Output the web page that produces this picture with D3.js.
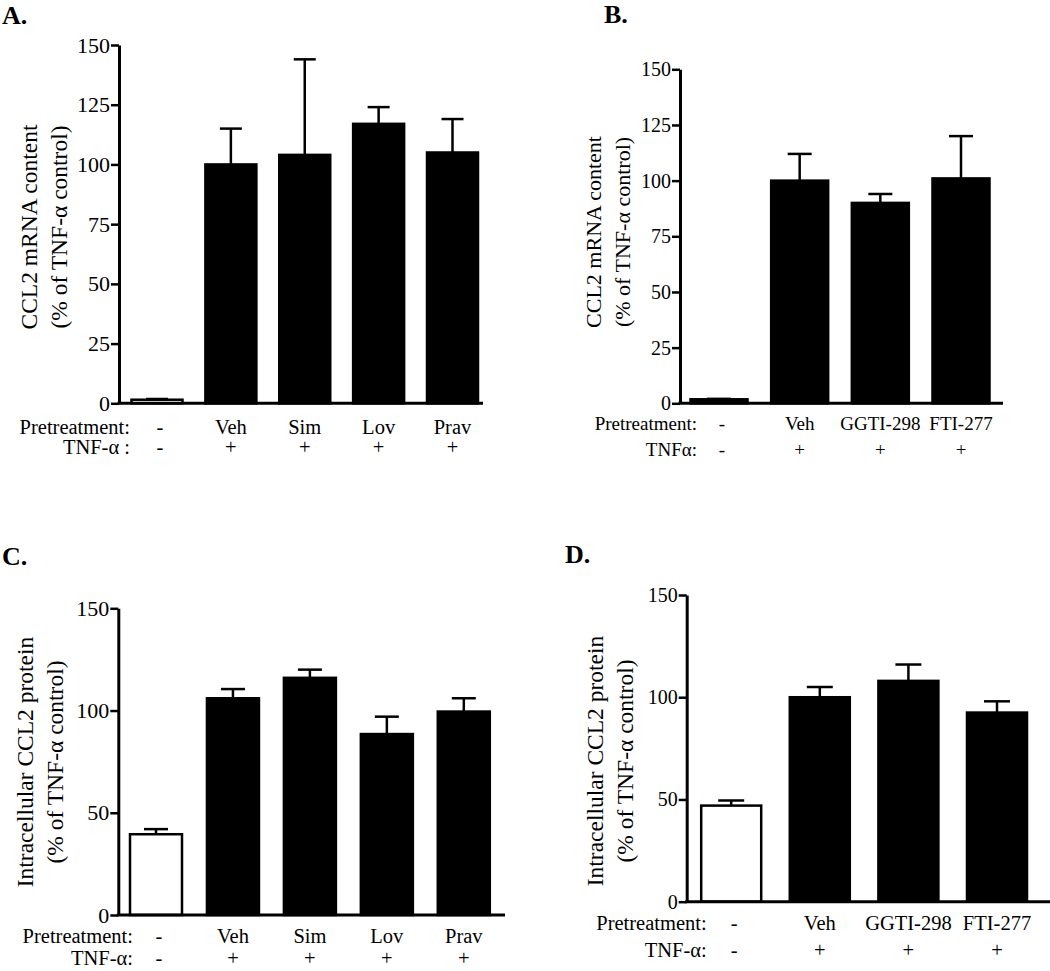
<!DOCTYPE html>
<html><head><meta charset="utf-8">
<script src="https://cdn.jsdelivr.net/npm/d3@7"></script>
<style>body{margin:0;background:#fff}svg{display:block}text{font-family:"Liberation Serif","Times New Roman",serif;fill:#000}</style>
</head><body>
<svg id="c" width="1050" height="971"></svg>
<script>
// ---- data ----
const catsA = ["-", "Veh", "Sim", "Lov", "Prav"];
const tnfA  = ["-", "+", "+", "+", "+"];
const meanA = [1.5, 100, 104, 117, 105];
const errA  = [0.3, 15, 40, 7, 14];
const ticksA = [0, 25, 50, 75, 100, 125, 150];

const catsB = ["-", "Veh", "GGTI-298", "FTI-277"];
const tnfB  = ["-", "+", "+", "+"];
const meanB = [1.8, 100, 90, 101];
const errB  = [0.2, 12, 4, 19];
const ticksB = [0, 25, 50, 75, 100, 125, 150];

const catsC = ["-", "Veh", "Sim", "Lov", "Prav"];
const tnfC  = ["-", "+", "+", "+", "+"];
const meanC = [39.5, 106, 116, 88.5, 99.5];
const errC  = [2.5, 4.5, 4, 8.5, 6.5];
const ticksC = [0, 50, 100, 150];

const catsD = ["-", "Veh", "GGTI-298", "FTI-277"];
const tnfD  = ["-", "+", "+", "+"];
const meanD = [47, 100, 108, 92.5];
const errD  = [2.5, 5, 8, 5.5];
const ticksD = [0, 50, 100, 150];

const svg = d3.select("#c");

function panel(o) {
  const g = svg.append("g");
  const y = d3.scaleLinear().domain([0, 150]).range([o.yb, o.yt]);
  const x = d3.scalePoint().domain(o.cats.map((c, i) => i)).range([o.c0, o.c1]);
  // bars
  g.selectAll("rect.bar").data(o.mean).enter().append("rect")
    .attr("x", (d, i) => x(i) - o.bw / 2)
    .attr("y", d => y(d))
    .attr("width", o.bw)
    .attr("height", d => y(0) - y(d))
    .attr("fill", (d, i) => (i === 0 && o.firstWhite) ? "#fff" : "#000")
    .attr("stroke", "#000").attr("stroke-width", 2.5);
  // error bars
  const eb = g.selectAll("g.eb").data(o.mean).enter().append("g");
  eb.append("line")
    .attr("x1", (d, i) => x(i)).attr("x2", (d, i) => x(i))
    .attr("y1", d => y(d)).attr("y2", (d, i) => y(d + o.err[i]))
    .attr("stroke", "#000").attr("stroke-width", 2.5);
  eb.append("line")
    .attr("x1", (d, i) => x(i) - o.cw / 2).attr("x2", (d, i) => x(i) + o.cw / 2)
    .attr("y1", (d, i) => y(d + o.err[i])).attr("y2", (d, i) => y(d + o.err[i]))
    .attr("stroke", "#000").attr("stroke-width", 2.5);
  // y axis
  const ax = g.append("g").attr("transform", `translate(${o.ax},0)`)
    .call(d3.axisLeft(y).tickValues(o.ticks).tickSize(8).tickPadding(1).tickSizeOuter(0));
  ax.select(".domain").attr("stroke-width", 3);
  ax.selectAll(".tick line").attr("stroke-width", 2.5);
  ax.selectAll(".tick text").style("font-size", o.tfs + "px").style("font-family", '"Liberation Serif",serif');
  // x axis baseline
  g.append("line").attr("x1", o.ax - 1.5).attr("x2", o.xe)
    .attr("y1", y(0)).attr("y2", y(0)).attr("stroke", "#000").attr("stroke-width", 3);
  // y label
  const yl = g.append("g").attr("transform", `translate(0,${o.ylc}) `);
  yl.append("text").attr("transform", `translate(${o.yl1},0) rotate(-90)`)
    .attr("text-anchor", "middle").attr("dy", "0.35em").style("font-size", o.lfs + "px").text(o.ylab1);
  yl.append("text").attr("transform", `translate(${o.yl2},0) rotate(-90)`)
    .attr("text-anchor", "middle").attr("dy", "0.35em").style("font-size", o.lfs + "px").text(o.ylab2);
  // row labels
  g.append("text").attr("x", o.rx).attr("y", o.r1).attr("dy", "0.35em").attr("text-anchor", "end")
    .style("font-size", o.rfs + "px").text("Pretreatment:");
  g.append("text").attr("x", o.rx).attr("y", o.r2).attr("dy", "0.35em").attr("text-anchor", "end")
    .style("font-size", o.rfs + "px").text(o.tnfLab);
  g.selectAll("text.cat").data(o.cats).enter().append("text")
    .attr("x", (d, i) => x(i) + (i === 0 ? 3 : 0)).attr("y", o.r1).attr("dy", "0.35em").attr("text-anchor", "middle")
    .style("font-size", o.rfs + "px").text(d => d);
  g.selectAll("text.tnf").data(o.tnf).enter().append("text")
    .attr("x", (d, i) => x(i) + (i === 0 ? 3 : 0)).attr("y", o.r2).attr("dy", "0.35em").attr("text-anchor", "middle")
    .style("font-size", o.rfs + "px").text(d => d);
  // panel letter
  g.append("text").attr("x", o.px).attr("y", o.py).style("font-size", "26px").style("font-weight", "bold").text(o.letter);
}

panel({letter: "A.", px: 2, py: 24, cats: catsA, tnf: tnfA, mean: meanA, err: errA, ticks: ticksA,
  ax: 119, yt: 45, yb: 403.3, xe: 483, c0: 157, c1: 452.5, bw: 51, cw: 22, firstWhite: true,
  tfs: 22, lfs: 23.5, rfs: 20.5, rx: 130, r1: 427, r2: 447, tnfLab: "TNF-α :",
  ylab1: "CCL2 mRNA content", ylab2: "(% of TNF-α control)", ylc: 227, yl1: 29, yl2: 59});

panel({letter: "B.", px: 604, py: 23, cats: catsB, tnf: tnfB, mean: meanB, err: errB, ticks: ticksB,
  ax: 680, yt: 69.3, yb: 403.3, xe: 1003, c0: 719, c1: 961, bw: 57, cw: 24, firstWhite: false,
  tfs: 20, lfs: 22, rfs: 19, rx: 697, r1: 423, r2: 449, tnfLab: "TNFα:",
  ylab1: "CCL2 mRNA content", ylab2: "(% of TNF-α control)", ylc: 232, yl1: 593, yl2: 622});

panel({letter: "C.", px: 2, py: 565, cats: catsC, tnf: tnfC, mean: meanC, err: errC, ticks: ticksC,
  ax: 118.3, yt: 608.3, yb: 915, xe: 505, c0: 156, c1: 463.8, bw: 52, cw: 24, firstWhite: true,
  tfs: 22, lfs: 23.5, rfs: 20.5, rx: 133, r1: 936, r2: 958, tnfLab: "TNF-α:",
  ylab1: "Intracellular CCL2 protein", ylab2: "(% of TNF-α control)", ylc: 762, yl1: 25, yl2: 55});

panel({letter: "D.", px: 565, py: 563, cats: catsD, tnf: tnfD, mean: meanD, err: errD, ticks: ticksD,
  ax: 686.7, yt: 595, yb: 901.7, xe: 1050, c0: 731.2, c1: 997, bw: 60, cw: 26, firstWhite: true,
  tfs: 20, lfs: 23.5, rfs: 20.5, rx: 706.7, r1: 923, r2: 950, tnfLab: "TNF-α:",
  ylab1: "Intracellular CCL2 protein", ylab2: "(% of TNF-α control)", ylc: 761, yl1: 595, yl2: 625});
</script>
</body></html>
